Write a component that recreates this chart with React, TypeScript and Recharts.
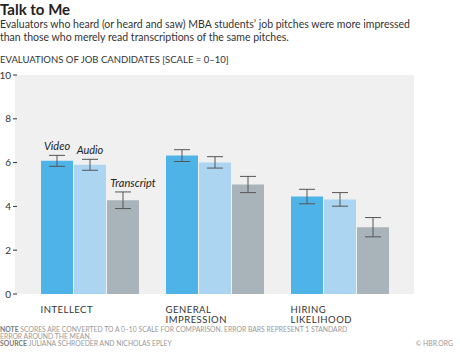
import { BarChart, Bar, XAxis, YAxis, CartesianGrid, ErrorBar, LabelList } from "recharts";

const categories = ["INTELLECT", "GENERAL IMPRESSION", "HIRING LIKELIHOOD"];
const video = [6.08, 6.32, 4.45];
const videoErr = [0.25, 0.27, 0.33];
const audio = [5.9, 6.01, 4.32];
const audioErr = [0.25, 0.26, 0.31];
const transcript = [4.28, 5.0, 3.05];
const transcriptErr = [0.38, 0.37, 0.44];
const yTicks = [0, 2, 4, 6, 8, 10];

const data = categories.map((name, i) => ({
  name,
  Video: video[i],
  videoErr: videoErr[i],
  Audio: audio[i],
  audioErr: audioErr[i],
  Transcript: transcript[i],
  transcriptErr: transcriptErr[i],
}));

const FONT = "Lato, 'Open Sans', sans-serif";

const YTick = ({ y, payload }: any) => (
  <g>
    <text x={11} y={y + 3.5} textAnchor="end" fontSize={10} fill="#333" fontFamily={FONT}>
      {payload.value}
    </text>
    <line x1={13} x2={17} y1={y} y2={y} stroke="#333" strokeWidth={1} />
  </g>
);

const XTick = ({ x, y, payload }: any) => {
  const lines = String(payload.value).split(" ");
  return (
    <g>
      {lines.map((l, i) => (
        <text
          key={i}
          x={x - 49}
          y={y + 11 + i * 9.5}
          fontSize={9.5}
          fill="#333"
          fontFamily={FONT}
          letterSpacing={0.5}
        >
          {l}
        </text>
      ))}
    </g>
  );
};

const seriesLabel = (text: string, errs: number[], dx: number) => (props: any) => {
  const { x, y, width, height, value, index } = props;
  if (index !== 0) return null;
  const scale = height / value;
  const top = y - errs[0] * scale;
  return (
    <text
      x={x + width / 2 + dx}
      y={top - 5}
      textAnchor="middle"
      fontSize={11}
      fontStyle="italic"
      fill="#222"
      fontFamily={FONT}
    >
      {text}
    </text>
  );
};

const noteStyle = { fontSize: 6.8, fill: "#999", fontFamily: FONT };

const App = () => (
  <div style={{ position: "absolute", left: 0, top: 0, width: 460, height: 352, background: "#fff", fontFamily: FONT }}>
    <div style={{ position: "absolute", left: 0, top: 0, fontSize: 15, fontWeight: 700, color: "#222", lineHeight: "18px" }}>
      Talk to Me
    </div>
    <div style={{ position: "absolute", left: 0, top: 18, width: 460, fontSize: 10.5, color: "#333", lineHeight: "13px" }}>
      Evaluators who heard (or heard and saw) MBA students’ job pitches were more impressed
      <br />
      than those who merely read transcriptions of the same pitches.
    </div>
    <div style={{ position: "absolute", left: 0, top: 54, fontSize: 9.5, color: "#333", lineHeight: "12px" }}>
      EVALUATIONS OF JOB CANDIDATES [SCALE = 0–10]
    </div>
    <div style={{ position: "absolute", left: 0, top: 0 }}>
      <BarChart
        width={460}
        height={352}
        data={data}
        margin={{ top: 75, right: 46, left: 0, bottom: 0 }}
        barSize={32}
        barGap={1}
      >
        <CartesianGrid fill="#f0f0f0" horizontal={false} vertical={false} />
        <YAxis
          width={15}
          domain={[0, 10]}
          ticks={yTicks}
          axisLine={false}
          tickLine={false}
          tick={<YTick />}
          interval={0}
        />
        <XAxis
          dataKey="name"
          height={58}
          padding={{ left: 12, right: 12 }}
          axisLine={false}
          tickLine={false}
          tick={<XTick />}
          interval={0}
        />
        <Bar dataKey="Video" fill="#4eb3e7" isAnimationActive={false}>
          <ErrorBar dataKey="videoErr" width={8} stroke="#555" strokeWidth={1} />
          <LabelList dataKey="Video" content={seriesLabel("Video", videoErr, 0)} />
        </Bar>
        <Bar dataKey="Audio" fill="#acd5f1" isAnimationActive={false}>
          <ErrorBar dataKey="audioErr" width={8} stroke="#555" strokeWidth={1} />
          <LabelList dataKey="Audio" content={seriesLabel("Audio", audioErr, 0)} />
        </Bar>
        <Bar dataKey="Transcript" fill="#a9b3ba" isAnimationActive={false}>
          <ErrorBar dataKey="transcriptErr" width={8} stroke="#555" strokeWidth={1} />
          <LabelList dataKey="Transcript" content={seriesLabel("Transcript", transcriptErr, 10)} />
        </Bar>
      </BarChart>
    </div>
    <svg width={460} height={30} style={{ position: "absolute", left: 0, top: 322 }}>
      <text x={0} y={10.3} {...noteStyle}>
        <tspan fontWeight={700} fill="#777">NOTE</tspan> SCORES ARE CONVERTED TO A 0–10 SCALE FOR COMPARISON. ERROR BARS REPRESENT 1 STANDARD
      </text>
      <text x={0} y={17} {...noteStyle}>
        ERROR AROUND THE MEAN.
      </text>
      <text x={0} y={23.7} {...noteStyle}>
        <tspan fontWeight={700} fill="#777">SOURCE</tspan> JULIANA SCHROEDER AND NICHOLAS EPLEY
      </text>
      <text x={453} y={23.7} textAnchor="end" {...noteStyle}>
        © HBR.ORG
      </text>
    </svg>
  </div>
);

export default App;
